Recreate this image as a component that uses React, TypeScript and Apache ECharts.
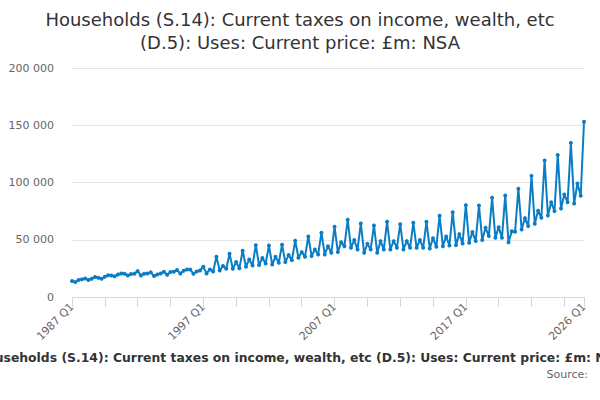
import React, { useEffect, useRef } from "react";
import * as echarts from "echarts";

const TITLE_LINES = [
  "Households (S.14): Current taxes on income, wealth, etc",
  "(D.5): Uses: Current price: £m: NSA",
];
const SUBTITLE =
  "Households (S.14): Current taxes on income, wealth, etc (D.5): Uses: Current price: £m: NSA";
const SOURCE = "Source:";

const FIRST_YEAR = 1987;
const QUARTERS = ["Q1", "Q2", "Q3", "Q4"];

// Quarterly values, £m, 1987 Q1 .. 2026 Q1
const values1987to1996 = [
  14000, 13000, 14800, 15400,
  16200, 14800, 15900, 17500,
  16800, 15900, 17600, 19000,
  18800, 18000, 19700, 20500,
  20300, 18800, 20000, 20300,
  22600, 18800, 20300, 20600,
  21500, 18300, 19700, 20600,
  22000, 19400, 21800, 22000,
  23500, 20600, 22900, 24100,
  24100, 20300, 22300, 23200,
];
const values1997to2006 = [
  26400, 20600, 24100, 22300,
  35100, 23200, 27000, 24700,
  37800, 24700, 30500, 25200,
  40400, 26400, 32800, 27600,
  45200, 27900, 34000, 29300,
  45000, 28400, 35100, 29900,
  45600, 30500, 36600, 32200,
  49100, 34300, 39200, 35100,
  52900, 35700, 41500, 37200,
  56100, 37200, 44400, 38600,
];
const values2007to2016 = [
  61300, 39200, 47900, 44400,
  67400, 43000, 49700, 41500,
  64200, 38600, 46500, 41500,
  62500, 38600, 48800, 41500,
  65700, 41500, 48800, 43000,
  63600, 41500, 48800, 43000,
  64800, 43000, 49700, 43000,
  65700, 42400, 51400, 43900,
  70900, 44400, 52900, 45000,
  74100, 45300, 54900, 46800,
];
const values2017to2026 = [
  80200, 47400, 56700, 48800,
  79900, 49700, 60400, 53200,
  86600, 51700, 61000, 51700,
  88700, 47900, 57500, 57000,
  94500, 59000, 68900, 61900,
  105800, 63900, 75300, 69200,
  119200, 71200, 82800, 75000,
  124100, 77300, 89500, 82800,
  134600, 81700, 99100, 88400,
  153000,
];

const values = [
  ...values1987to1996,
  ...values1997to2006,
  ...values2007to2016,
  ...values2017to2026,
];

const categories = values.map(
  (_, i) => `${FIRST_YEAR + Math.floor(i / 4)} ${QUARTERS[i % 4]}`
);

const Y_MIN = 0;
const Y_MAX = 200000;
const Y_STEP = 50000;

const fmt = (v: number) => String(v).replace(/\B(?=(\d{3})+(?!\d))/g, " ");

export default function App() {
  const ref = useRef<HTMLDivElement>(null);
  useEffect(() => {
    document.body.style.margin = "0";
    if (!ref.current) return;
    const chart = echarts.init(ref.current, undefined, { renderer: "svg" });
    const last = categories.length - 1;
    chart.setOption({
      animation: false,
      backgroundColor: "#ffffff",
      textStyle: { fontFamily: "DejaVu Sans" },
      title: {
        text: TITLE_LINES.join("\n"),
        left: "center",
        top: 3,
        textStyle: {
          fontFamily: "DejaVu Sans",
          fontSize: 18,
          fontWeight: "normal",
          color: "#333333",
          lineHeight: 23,
        },
      },
      grid: {
        left: 72,
        right: 16,
        top: 68,
        bottom: 103,
        containLabel: false,
        outerBoundsMode: "none",
      },
      xAxis: {
        type: "category",
        data: categories,
        boundaryGap: false,
        axisLine: { lineStyle: { color: "#ccd6eb", width: 1 } },
        axisTick: {
          length: 10,
          interval: (i: number) => i % 10 === 0 || i === last,
          lineStyle: { color: "#ccd6eb" },
        },
        axisLabel: {
          interval: (i: number) => i % 40 === 0 || i === last,
          rotate: 45,
          color: "#666666",
          fontSize: 11,
          margin: 8,
          fontFamily: "DejaVu Sans",
        },
        splitLine: { show: false },
      },
      yAxis: {
        type: "value",
        min: Y_MIN,
        max: Y_MAX,
        interval: Y_STEP,
        axisLine: { show: false },
        axisTick: { show: false },
        axisLabel: {
          color: "#666666",
          fontSize: 11,
          margin: 18,
          fontFamily: "DejaVu Sans",
          formatter: (v: number) => fmt(v),
        },
        splitLine: { lineStyle: { color: "#e6e6e6", width: 1 } },
      },
      series: [
        {
          type: "line",
          data: values,
          showAllSymbol: true,
          symbol: "circle",
          symbolSize: 4,
          lineStyle: { color: "#0b7dc4", width: 2 },
          itemStyle: { color: "#0b7dc4" },
        },
      ],
      graphic: [
        {
          type: "text",
          left: "center",
          top: 351,
          style: {
            text: SUBTITLE,
            fontFamily: "DejaVu Sans",
            fontSize: 12.4,
            fontWeight: "bold",
            fill: "#333333",
          },
        },
        {
          type: "text",
          right: 12,
          top: 369,
          style: {
            text: SOURCE,
            fontFamily: "DejaVu Sans",
            fontSize: 11,
            fill: "#666666",
          },
        },
      ],
    });
    return () => chart.dispose();
  }, []);
  return <div ref={ref} style={{ width: 600, height: 400 }} />;
}
